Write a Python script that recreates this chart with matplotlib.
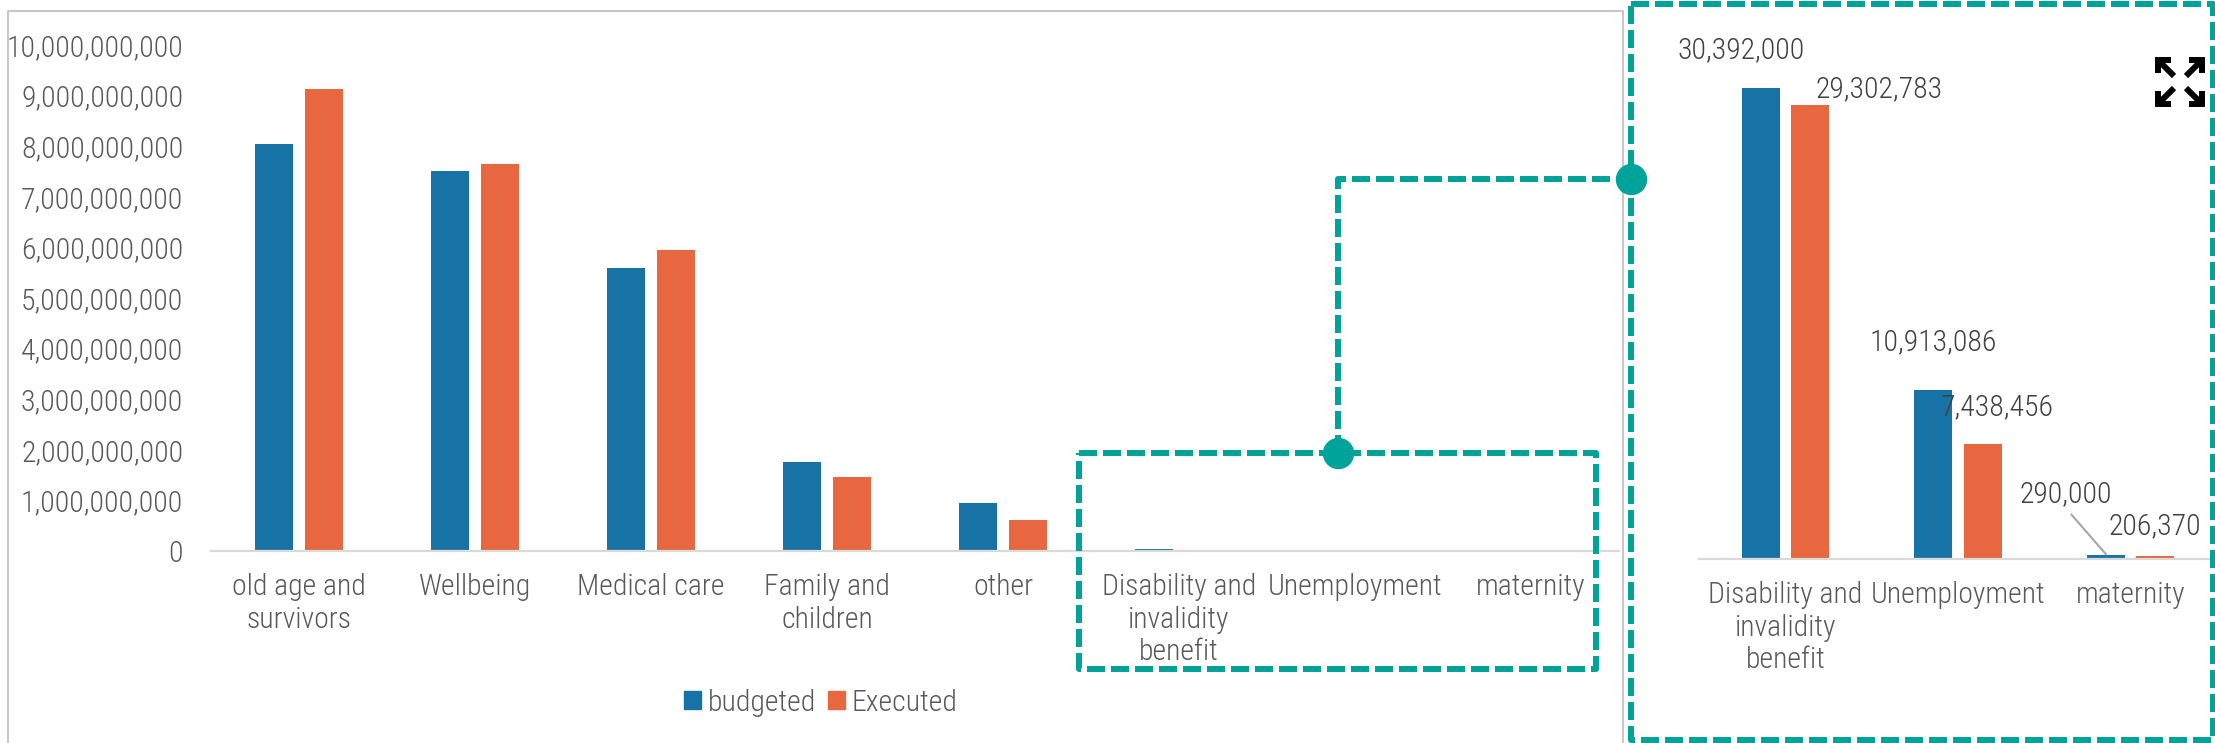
import os
import numpy as np
import matplotlib.pyplot as plt
import matplotlib.font_manager as fm
from matplotlib.ticker import FuncFormatter
from matplotlib.patches import Patch

# Узкий шрифт, если он есть в системе
prefs = ['NotoSans-CondensedLight.ttf', 'NotoSans-Condensed.ttf', 'RobotoCondensed-Light.ttf',
         'RobotoCondensed-Regular.ttf', 'LiberationSansNarrow-Regular.ttf', 'DejaVuSansCondensed.ttf']
entries = {os.path.basename(f.fname): f for f in fm.fontManager.ttflist}
chosen = None
for p in prefs:
    if p in entries:
        chosen = entries[p]
        break
if chosen is None:
    for name, f in sorted(entries.items()):
        if ('Condensed' in name or 'Narrow' in name) and 'Italic' not in name and 'Bold' not in name:
            chosen = f
            break
if chosen is not None:
    plt.rcParams['font.family'] = [chosen.name, 'DejaVu Sans']
    plt.rcParams['font.stretch'] = chosen.stretch
    plt.rcParams['font.weight'] = chosen.weight
else:
    plt.rcParams['font.family'] = ['DejaVu Sans']

# Бюджет по направлениям социальной защиты
categories = ['old age and\nsurvivors', 'Wellbeing', 'Medical care', 'Family and\nchildren',
              'other', 'Disability and\ninvalidity\nbenefit', 'Unemployment', 'maternity']
budgeted = [8.04e9, 7.51e9, 5.59e9, 1.76e9, 0.95e9, 30392000, 10913086, 290000]
executed = [9.13e9, 7.65e9, 5.95e9, 1.46e9, 0.61e9, 29302783, 7438456, 206370]

# Увеличенный фрагмент: три последние категории
zoom_idx = [5, 6, 7]
zoom_budgeted = [budgeted[i] for i in zoom_idx]
zoom_executed = [executed[i] for i in zoom_idx]
zoom_categories = [categories[i] for i in zoom_idx]

W, H = 2215, 743
BLUE = '#1773A6'
ORANGE = '#E66740'
TEAL = '#00A39A'
GRAY_TXT = '#595959'

fig = plt.figure(figsize=(W / 100, H / 100), dpi=100)

# Размер шрифта подбираем так, чтобы подпись "10,000,000,000" была ~175 px шириной
probe = fig.text(0, 0, '10,000,000,000', fontsize=22)
fig.canvas.draw()
w = probe.get_window_extent().width
probe.remove()
FS = min(22, 22 * 175 / w)


def px_axes(left, top, right, bottom):
    return fig.add_axes([left / W, 1 - bottom / H, (right - left) / W, (bottom - top) / H])


def style_axis(a):
    for s in ['top', 'right', 'left']:
        a.spines[s].set_visible(False)
    a.spines['bottom'].set_color('#D9D9D9')
    a.spines['bottom'].set_linewidth(1.6)
    a.tick_params(axis='both', length=0, labelsize=FS, labelcolor=GRAY_TXT)
    a.tick_params(axis='x', pad=16)


# Основная диаграмма
ax = px_axes(211, 45, 1619, 551)
x = np.arange(len(categories))
ax.bar(x - 0.142, budgeted, 0.22, color=BLUE, label='budgeted')
ax.bar(x + 0.142, executed, 0.22, color=ORANGE, label='Executed')
ax.set_xlim(-0.5, len(categories) - 0.5)
ax.set_ylim(0, 10e9)
ax.set_yticks(np.arange(0, 10.5e9, 1e9))
ax.yaxis.set_major_formatter(FuncFormatter(lambda v, _: f'{v:,.0f}'))
ax.set_xticks(x)
ax.set_xticklabels(categories, linespacing=1.2)
style_axis(ax)
ax.tick_params(axis='y', pad=20)

# Врезка с мелкими статьями
axz = px_axes(1699, 63, 2217, 559)
xz = np.arange(len(zoom_categories))
axz.bar(xz - 0.142, zoom_budgeted, 0.22, color=BLUE)
axz.bar(xz + 0.142, zoom_executed, 0.22, color=ORANGE)
axz.set_xlim(-0.5, len(zoom_categories) - 0.5)
axz.set_ylim(0, 32e6)
axz.set_yticks([])
axz.set_xticks(xz)
axz.set_xticklabels(zoom_categories, linespacing=1.2)
style_axis(axz)

# Подписи значений (смещения в пикселях)
offsets_b = [(-20, 38), (0, 48), (-40, 60)]
offsets_e = [(69, 16), (15, 36), (0, 30)]
for i in range(len(zoom_categories)):
    arrow = None
    if i == 2:
        arrow = dict(arrowstyle='-', color='#A6A6A6', lw=1.5, shrinkA=3, shrinkB=0,
                     relpos=(0.5, 0))
    axz.annotate(f'{zoom_budgeted[i]:,.0f}', xy=(xz[i] - 0.142, zoom_budgeted[i]),
                 xytext=offsets_b[i], textcoords='offset pixels', ha='center', va='center',
                 fontsize=FS, color='#404040', arrowprops=arrow)
    axz.annotate(f'{zoom_executed[i]:,.0f}', xy=(xz[i] + 0.142, zoom_executed[i]),
                 xytext=offsets_e[i], textcoords='offset pixels', ha='center', va='center',
                 fontsize=FS, color='#404040')

# Легенда
handles = [Patch(color=BLUE), Patch(color=ORANGE)]
fig.legend(handles, ['budgeted', 'Executed'], loc='center', bbox_to_anchor=(821 / W, 1 - 703 / H),
           ncol=2, frameon=False, fontsize=FS, labelcolor=GRAY_TXT,
           handlelength=0.55, handleheight=0.55, handletextpad=0.25, columnspacing=0.4)

# Слой с рамками и выносками в пикселях
ov = fig.add_axes([0, 0, 1, 1], zorder=10)
ov.set_xlim(0, W)
ov.set_ylim(H, 0)
ov.axis('off')
ov.patch.set_alpha(0)

ov.plot([8, 8, 1623, 1623], [H + 10, 11, 11, H + 10], color='#C8C8C8', lw=1.5)

dash = dict(color=TEAL, lw=4.32, ls=(0, (3, 1)), dash_capstyle='butt', solid_capstyle='butt')
ov.plot([1079, 1596, 1596, 1079, 1079], [453, 453, 669, 669, 453], **dash)
ov.plot([1631, 2213, 2213, 1631, 1631], [4, 4, 740, 740, 4], **dash)
ov.plot([1338, 1338, 1631], [453, 179, 179], **dash)
ov.plot([1338, 1631], [453, 179], 'o', color=TEAL, ms=21.6, ls='none')

# Значок «развернуть»
cx, cy, half, leg = 2180, 82, 22, 13
for sx, sy in [(-1, -1), (1, -1), (-1, 1), (1, 1)]:
    px, py = cx + sx * half, cy + sy * half
    ov.plot([px - sx * leg, px, px], [py, py, py - sy * leg], color='black', lw=4.3,
            solid_joinstyle='miter', solid_capstyle='butt')
    ov.plot([px, px - sx * 16], [py, py - sy * 16], color='black', lw=4.3, solid_capstyle='butt')

fig.savefig('out.png', dpi=100)
